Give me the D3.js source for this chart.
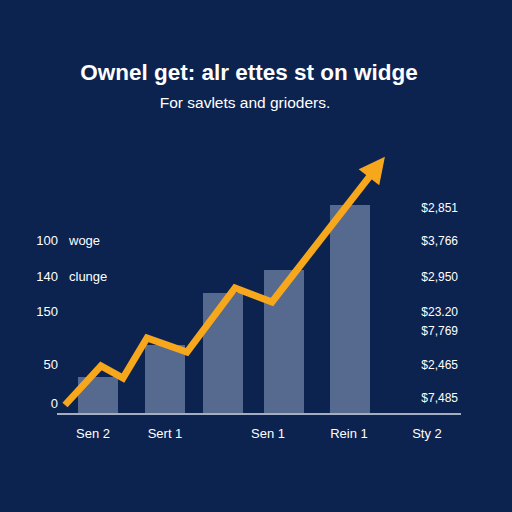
<!DOCTYPE html>
<html>
<head>
<script src="https://cdn.jsdelivr.net/npm/d3@7"></script>
<style>
body{margin:0;background:#0c2350;}
text{font-family:"Liberation Sans",Arial,sans-serif;fill:#fff;}
</style>
</head>
<body>
<script>
var barPos = [41, 108, 166, 227, 293];
var barVals = [36, 68, 120, 143, 208];
var linePos = [8, 44, 66, 90, 130, 178, 215, 323];
var lineVals = [8, 47, 35, 75, 61, 125, 111, 250];
var leftLabels = [["100", "woge", 173], ["140", "clunge", 137], ["150", "", 102], ["50", "", 49], ["0", "", 10]];
var rightLabels = [["$2,851", 206], ["$3,766", 173], ["$2,950", 137], ["$23.20", 102], ["$7,769", 83], ["$2,465", 49], ["$7,485", 16]];
var xLabels = [["Sen 2", 36], ["Sert 1", 108], ["Sen 1", 211], ["Rein 1", 292], ["Sty 2", 370]];

var svg = d3.select("body").append("svg").attr("width", 512).attr("height", 512);
svg.append("rect").attr("width", 512).attr("height", 512).attr("fill", "#0c2350");

var x = d3.scaleLinear().domain([0, 404]).range([57, 461]);
var y = d3.scaleLinear().domain([0, 250]).range([413, 163]);

svg.append("text").attr("x", 249).attr("y", 80).attr("text-anchor", "middle")
    .attr("font-size", 22.5).attr("font-weight", "bold").text("Ownel get: alr ettes st on widge");
svg.append("text").attr("x", 245).attr("y", 108).attr("text-anchor", "middle")
    .attr("font-size", 15.5).text("For savlets and grioders.");

svg.selectAll(".bar").data(barVals).enter().append("rect")
    .attr("x", function(d, i){ return x(barPos[i]) - 20; })
    .attr("width", 40)
    .attr("y", function(d){ return y(d); })
    .attr("height", function(d){ return y(0) - y(d); })
    .attr("fill", "#56698f");

svg.append("line").attr("x1", x(0)).attr("x2", x(404)).attr("y1", 414).attr("y2", 414)
    .attr("stroke", "#d8dce6").attr("stroke-width", 1.5);

var pts = linePos.map(function(d, i){ return [x(d), y(lineVals[i])]; });
var last = pts[pts.length - 1], prev = pts[pts.length - 2];
var ang = Math.atan2(last[1] - prev[1], last[0] - prev[0]);
var shaft = pts.slice(0, -1).concat([[last[0] - 14 * Math.cos(ang), last[1] - 14 * Math.sin(ang)]]);
svg.append("path").attr("d", d3.line()(shaft)).attr("fill", "none")
    .attr("stroke", "#f7a71c").attr("stroke-width", 7).attr("stroke-linejoin", "miter").attr("stroke-linecap", "butt");
var tip = [last[0] + 8 * Math.cos(ang), last[1] + 8 * Math.sin(ang)];
var bx = last[0] - 18 * Math.cos(ang), by = last[1] - 18 * Math.sin(ang);
var px = -Math.sin(ang) * 13, py = Math.cos(ang) * 13;
svg.append("path").attr("d", d3.line()([tip, [bx + px, by + py], [bx - px, by - py]]) + "Z").attr("fill", "#f7a71c");

leftLabels.forEach(function(l){
  svg.append("text").attr("x", 58).attr("y", y(l[2]) + 5).attr("text-anchor", "end").attr("font-size", 13).text(l[0]);
  svg.append("text").attr("x", 69).attr("y", y(l[2]) + 5).attr("font-size", 13).text(l[1]);
});
rightLabels.forEach(function(l){
  svg.append("text").attr("x", 458).attr("y", y(l[1]) + 5).attr("text-anchor", "end").attr("font-size", 12).text(l[0]);
});
xLabels.forEach(function(l){
  svg.append("text").attr("x", x(l[1])).attr("y", 438).attr("text-anchor", "middle").attr("font-size", 13).text(l[0]);
});
</script>
</body>
</html>
